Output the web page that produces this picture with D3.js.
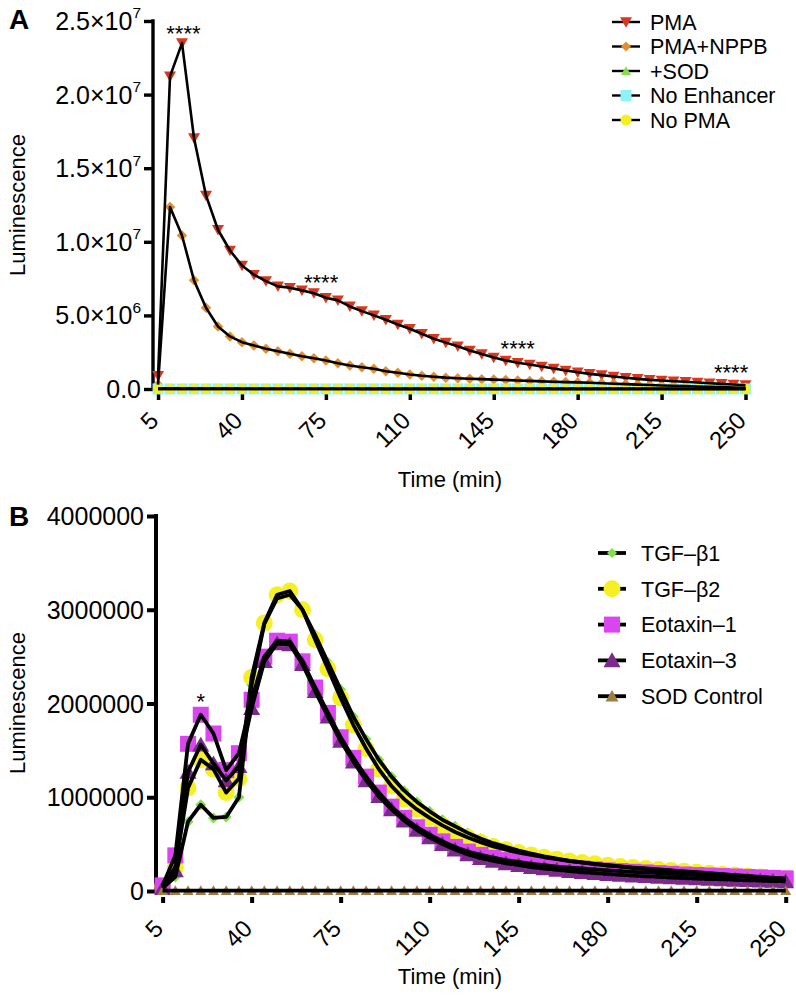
<!DOCTYPE html>
<html><head><meta charset="utf-8">
<script src="https://cdn.jsdelivr.net/npm/d3@7"></script>
<style>
body{margin:0;background:#fff}
text{font-family:"Liberation Sans",Arial,Helvetica,sans-serif;fill:#000}
</style>
</head><body>
<svg id="chart" width="796" height="997"></svg>
<script>
// ---------- DATA ----------
const time = [5,10,15,20,25,30,35,40,45,50,55,60,65,70,75,80,85,90,95,100,105,110,115,120,125,130,135,140,145,150,155,160,165,170,175,180,185,190,195,200,205,210,215,220,225,230,235,240,245,250];

// Panel A
const seriesNamesA = ["PMA","PMA+NPPB","+SOD","No Enhancer","No PMA"];
const pma = [0.9e6,2.124e7,2.35e7,1.705e7,1.315e7,1.082e7,9.41e6,8.39e6,7.76e6,7.33e6,6.97e6,6.88e6,6.70e6,6.51e6,6.20e6,6.02e6,5.61e6,5.29e6,5.00e6,4.70e6,4.38e6,4.09e6,3.75e6,3.41e6,3.15e6,2.90e6,2.62e6,2.37e6,2.14e6,1.94e6,1.78e6,1.66e6,1.53e6,1.39e6,1.26e6,1.14e6,1.03e6,0.94e6,0.85e6,0.76e6,0.69e6,0.62e6,0.58e6,0.53e6,0.49e6,0.44e6,0.39e6,0.35e6,0.31e6,0.26e6];
const pmaNppb = [0.3e6,1.236e7,1.043e7,7.38e6,5.52e6,4.25e6,3.57e6,3.18e6,2.96e6,2.73e6,2.57e6,2.39e6,2.23e6,2.09e6,1.94e6,1.75e6,1.60e6,1.48e6,1.37e6,1.21e6,1.10e6,0.99e6,0.90e6,0.83e6,0.77e6,0.73e6,0.70e6,0.67e6,0.64e6,0.61e6,0.58e6,0.55e6,0.52e6,0.49e6,0.47e6,0.45e6,0.42e6,0.39e6,0.36e6,0.33e6,0.30e6,0.27e6,0.24e6,0.22e6,0.20e6,0.17e6,0.15e6,0.13e6,0.10e6,0.08e6];
const plusSod = [30000,40000,35000,30000,30000,25000,25000,20000,20000,20000,20000,15000,15000,15000,15000,15000,15000,10000,10000,10000,10000,10000,10000,10000,10000,10000,10000,10000,10000,10000,10000,10000,10000,10000,10000,10000,10000,10000,10000,10000,10000,10000,10000,10000,10000,10000,10000,10000,10000,10000];
const noEnhancer = [5000,5000,5000,5000,5000,5000,5000,5000,5000,5000,5000,5000,5000,5000,5000,5000,5000,5000,5000,5000,5000,5000,5000,5000,5000,5000,5000,5000,5000,5000,5000,5000,5000,5000,5000,5000,5000,5000,5000,5000,5000,5000,5000,5000,5000,5000,5000,5000,5000,5000];
const noPma = [8000,8000,8000,8000,8000,8000,8000,8000,8000,8000,8000,8000,8000,8000,8000,8000,8000,8000,8000,8000,8000,8000,8000,8000,8000,8000,8000,8000,8000,8000,8000,8000,8000,8000,8000,8000,8000,8000,8000,8000,8000,8000,8000,8000,8000,8000,8000,8000,8000,8000];
const yTicksA = [0,5e6,1e7,1.5e7,2e7,2.5e7];
const yTickLabelsA = [["0.0",""],["5.0×10","6"],["1.0×10","7"],["1.5×10","7"],["2.0×10","7"],["2.5×10","7"]];
const xTicks = [5,40,75,110,145,180,215,250];
const starsA = [{t:15.6,v:2.35e7,label:"****"},{t:73,v:6.3e6,label:"****"},{t:155,v:1.78e6,label:"****"},{t:244,v:0.33e6,label:"****"}];

// Panel B
const seriesNamesB = ["TGF\u2013\u03b21","TGF\u2013\u03b22","Eotaxin\u20131","Eotaxin\u20133","SOD Control"];
const tgfb1 = [0.03e6,0.15e6,0.74e6,0.92e6,0.78e6,0.79e6,1.0e6,2.2e6,2.85e6,3.12e6,3.16e6,3.0e6,2.73e6,2.44e6,2.15e6,1.86e6,1.62e6,1.40e6,1.22e6,1.07e6,0.95e6,0.85e6,0.76e6,0.69e6,0.62e6,0.56e6,0.51e6,0.47e6,0.43e6,0.40e6,0.37e6,0.345e6,0.322e6,0.303e6,0.287e6,0.272e6,0.259e6,0.247e6,0.236e6,0.226e6,0.216e6,0.206e6,0.196e6,0.186e6,0.176e6,0.166e6,0.156e6,0.146e6,0.136e6,0.126e6];
const tgfb2 = [0.05e6,0.25e6,1.1e6,1.4e6,1.3e6,1.05e6,1.2e6,2.28e6,2.86e6,3.16e6,3.2e6,3.0e6,2.68e6,2.37e6,2.06e6,1.77e6,1.52e6,1.3e6,1.12e6,0.98e6,0.87e6,0.78e6,0.7e6,0.63e6,0.57e6,0.52e6,0.475e6,0.44e6,0.41e6,0.385e6,0.36e6,0.34e6,0.32e6,0.305e6,0.29e6,0.275e6,0.262e6,0.25e6,0.24e6,0.23e6,0.22e6,0.21e6,0.2e6,0.19e6,0.18e6,0.17e6,0.16e6,0.15e6,0.14e6,0.13e6];
const eotaxin1 = [0.06e6,0.38e6,1.57e6,1.88e6,1.68e6,1.29e6,1.47e6,2.04e6,2.5e6,2.67e6,2.66e6,2.45e6,2.17e6,1.9e6,1.64e6,1.42e6,1.22e6,1.05e6,0.9e6,0.78e6,0.68e6,0.6e6,0.53e6,0.47e6,0.42e6,0.385e6,0.355e6,0.33e6,0.31e6,0.29e6,0.275e6,0.26e6,0.25e6,0.24e6,0.23e6,0.22e6,0.212e6,0.205e6,0.198e6,0.19e6,0.183e6,0.176e6,0.17e6,0.165e6,0.16e6,0.155e6,0.15e6,0.145e6,0.14e6,0.135e6];
const eotaxin3 = [0.03e6,0.22e6,1.27e6,1.56e6,1.36e6,1.18e6,1.33e6,1.95e6,2.45e6,2.64e6,2.63e6,2.42e6,2.13e6,1.86e6,1.6e6,1.38e6,1.18e6,1.01e6,0.87e6,0.75e6,0.65e6,0.57e6,0.5e6,0.44e6,0.39e6,0.35e6,0.32e6,0.295e6,0.275e6,0.255e6,0.24e6,0.225e6,0.212e6,0.2e6,0.19e6,0.18e6,0.172e6,0.164e6,0.157e6,0.15e6,0.144e6,0.138e6,0.133e6,0.128e6,0.123e6,0.118e6,0.114e6,0.11e6,0.106e6,0.102e6];
const sodControl = [5000,5000,5000,5000,5000,5000,5000,5000,5000,5000,5000,5000,5000,5000,5000,5000,5000,5000,5000,5000,5000,5000,5000,5000,5000,5000,5000,5000,5000,5000,5000,5000,5000,5000,5000,5000,5000,5000,5000,5000,5000,5000,5000,5000,5000,5000,5000,5000,5000,5000];
const yTicksB = [0,1000000,2000000,3000000,4000000];
const starsB = [{t:20,v:1.88e6,label:"*"}];

// ---------- STYLE ----------
const stylesA = [
  {fill:"#d9381e", shape:"triDown", size:12},
  {fill:"#e38f30", shape:"diamond", size:10.5},
  {fill:"#86dd4c", shape:"triUp", size:9},
  {fill:"#8ef3f7", shape:"square", size:11},
  {fill:"#f4ee22", shape:"circle", size:10}
];
const stylesB = [
  {fill:"#7fe04a", shape:"diamond", size:11},
  {fill:"#f5f023", shape:"circle", size:17},
  {fill:"#d946ef", shape:"square", size:16},
  {fill:"#7b2a8c", shape:"triUp", size:17},
  {fill:"#a07d45", shape:"triUp", size:11}
];
const starDyA = [-2,-6,-7,-4];
const starDyB = [-6];

function markerPath(shape, s){
  const h = s/2;
  switch(shape){
    case "triDown": return `M${-h},${-h*0.8}L${h},${-h*0.8}L0,${h*0.95}Z`;
    case "triUp": return `M${-h},${h*0.8}L${h},${h*0.8}L0,${-h*0.95}Z`;
    case "diamond": return `M0,${-h}L${h},0L0,${h}L${-h},0Z`;
    case "square": return `M${-h},${-h}H${h}V${h}H${-h}Z`;
    case "circle": return `M${h},0A${h},${h} 0 1,1 ${-h},0A${h},${h} 0 1,1 ${h},0Z`;
  }
}

const svg = d3.select("#chart");

function drawPanel(cfg){
  const g = svg.append("g");
  const x = d3.scaleLinear().domain(cfg.xDomain).range(cfg.xRange);
  const y = d3.scaleLinear().domain(cfg.yDomain).range(cfg.yRange);
  const y0 = y(0);

  // y axis
  const yAxis = d3.axisLeft(y).tickValues(cfg.yTicks).tickSize(cfg.tickLen).tickFormat("");
  const ya = g.append("g").attr("transform",`translate(${cfg.xRange[0]},0)`).call(yAxis);
  ya.select(".domain").attr("stroke","#000").attr("stroke-width",cfg.axisW).attr("d",`M0,${cfg.yRange[1]-cfg.axisW/2}V${y0+cfg.axisW/2}`);
  ya.selectAll(".tick line").attr("stroke","#000").attr("stroke-width",cfg.axisW);

  // y tick labels
  cfg.yTicks.forEach((v,i)=>{
    const t = g.append("text").attr("x",cfg.xRange[0]-cfg.tickLen-3).attr("y",y(v)).attr("dy","0.36em")
      .attr("text-anchor","end").attr("font-size",cfg.tickFont);
    const lab = cfg.yLabel(v,i);
    t.append("tspan").text(lab[0]);
    if(lab[1]) t.append("tspan").attr("font-size",cfg.tickFont*0.62).attr("dy","-0.75em").text(lab[1]);
  });

  // x axis (ticks hang below the zero line)
  const xAxis = d3.axisBottom(x).tickValues(xTicks).tickSize(cfg.xTickLen).tickFormat("");
  const xa = g.append("g").attr("transform",`translate(0,${y0+cfg.xTickOff})`).call(xAxis);
  xa.select(".domain").remove();
  xa.selectAll(".tick line").attr("stroke","#000").attr("stroke-width",cfg.xTickW);
  xTicks.forEach(tv=>{
    g.append("text").attr("transform",`translate(${x(tv)+cfg.lblDx},${y0+cfg.lblDy}) rotate(-45)`)
      .attr("text-anchor","end").attr("dominant-baseline","central").attr("font-size",cfg.xTickFont).text(tv);
  });

  // markers
  cfg.series.forEach((s,si)=>{
    const st = cfg.styles[si];
    g.append("g").selectAll("path").data(time.map((t,i)=>({t,v:s[i]}))).join("path")
      .attr("transform",d=>`translate(${x(d.t)},${y(d.v)})`)
      .attr("d",markerPath(st.shape,st.size)).attr("fill",st.fill);
  });
  // lines
  const line = d3.line().x(d=>x(d.t)).y(d=>y(d.v));
  cfg.series.forEach((s,si)=>{
    g.append("path").datum(time.map((t,i)=>({t,v:s[i]}))).attr("d",line)
      .attr("fill","none").attr("stroke","#000").attr("stroke-width",cfg.lineW).attr("stroke-linejoin","round");
  });

  // stars
  cfg.stars.forEach((s,i)=>{
    g.append("text").attr("x",x(s.t)).attr("y",y(s.v)+cfg.starDy[i]).attr("text-anchor","middle")
      .attr("font-size",cfg.starFont).text(s.label);
  });

  // legend
  cfg.names.forEach((n,i)=>{
    const ly = cfg.legY + i*cfg.legStep;
    const st = cfg.styles[i];
    g.append("line").attr("x1",cfg.legX-14).attr("x2",cfg.legX+14).attr("y1",ly).attr("y2",ly)
      .attr("stroke","#000").attr("stroke-width",cfg.legLineW);
    g.append("path").attr("transform",`translate(${cfg.legX},${ly})`).attr("d",markerPath(st.shape,cfg.legMarker[i])).attr("fill",st.fill);
    g.append("text").attr("x",cfg.legX+cfg.legTextDx).attr("y",ly).attr("dy","0.36em").attr("font-size",cfg.legFont).text(n);
  });

  // axis titles
  g.append("text").attr("transform",`translate(${cfg.yTitleX},${cfg.yTitleY}) rotate(-90)`).attr("text-anchor","middle")
    .attr("font-size",cfg.titleFont).text("Luminescence");
  g.append("text").attr("x",cfg.xTitleX).attr("y",cfg.xTitleY).attr("text-anchor","middle")
    .attr("font-size",cfg.titleFont).text("Time (min)");
  g.append("text").attr("x",cfg.panelX).attr("y",cfg.panelY).attr("font-size",28).attr("font-weight","bold").text(cfg.panel);
}

drawPanel({
  panel:"A", panelX:9, panelY:29,
  xDomain:[2.9,250], xRange:[153,745.5],
  yDomain:[0,2.5e7], yRange:[389,21],
  yTicks:yTicksA, yLabel:(v,i)=>yTickLabelsA[i],
  tickLen:9, axisW:3.4, tickFont:25, xTickFont:24,
  xTickLen:6, xTickOff:5, xTickW:3.5, lblDx:-4, lblDy:27,
  series:[pma,pmaNppb,plusSod,noEnhancer,noPma], styles:stylesA, lineW:2.6,
  stars:starsA, starDy:starDyA, starFont:22,
  names:seriesNamesA, legX:626, legY:22, legStep:24.5, legLineW:2.4, legMarker:[12,10,10,11,11], legTextDx:24, legFont:21.5,
  yTitleX:25, yTitleY:205, xTitleX:450, xTitleY:487, titleFont:22
});

drawPanel({
  panel:"B", panelX:9, panelY:526,
  xDomain:[2.4,250], xRange:[156,785.7],
  yDomain:[0,4000000], yRange:[891,516],
  yTicks:yTicksB, yLabel:(v)=>[String(v),""],
  tickLen:9, axisW:4, tickFont:25, xTickFont:24,
  xTickLen:6, xTickOff:6, xTickW:4, lblDx:-4, lblDy:33,
  series:[tgfb1,tgfb2,eotaxin1,eotaxin3,sodControl], styles:stylesB, lineW:3.8,
  stars:starsB, starDy:starDyB, starFont:22,
  names:seriesNamesB, legX:612, legY:553, legStep:35.8, legLineW:3.8, legMarker:[10,17,16,17,13], legTextDx:29, legFont:21.5,
  yTitleX:25, yTitleY:703, xTitleX:450, xTitleY:984, titleFont:22
});
</script>
</body></html>
